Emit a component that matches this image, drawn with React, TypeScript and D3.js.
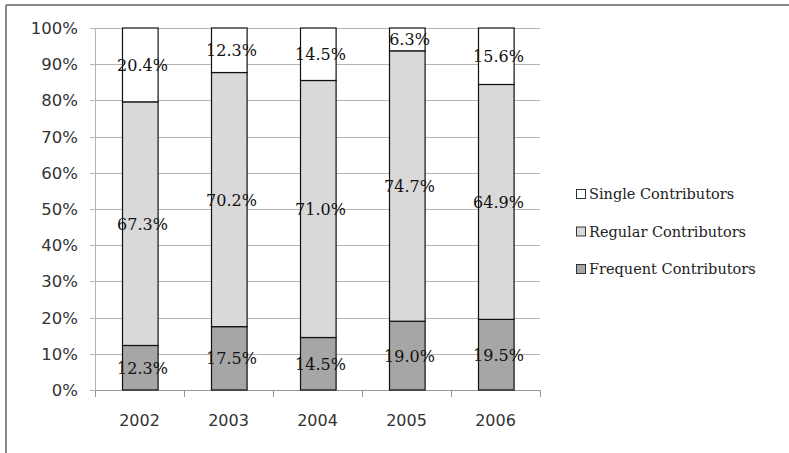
import React from "react";
import * as d3 from "d3";

const years = ["2002", "2003", "2004", "2005", "2006"];
const frequent = [12.3, 17.5, 14.5, 19.0, 19.5];
const regular = [67.3, 70.2, 71.0, 74.7, 64.9];
const single = [20.4, 12.3, 14.5, 6.3, 15.6];
const yTicks = [0, 10, 20, 30, 40, 50, 60, 70, 80, 90, 100];

const seriesNames = ["Frequent Contributors", "Regular Contributors", "Single Contributors"];
const seriesColors = ["#a6a6a6", "#d9d9d9", "#ffffff"];

const W = 789;
const H = 453;
const plot = { left: 95, right: 540, top: 28, bottom: 390 };

export default function App() {
  const x = d3.scaleBand<string>().domain(years).range([plot.left, plot.right]).paddingInner(0.6).paddingOuter(0.3);
  const band = d3.scaleBand<string>().domain(years).range([plot.left, plot.right]);
  const y = d3.scaleLinear().domain([0, 100]).range([plot.bottom, plot.top]);

  const rows = years.map((yr, i) => ({
    year: yr,
    "Frequent Contributors": frequent[i],
    "Regular Contributors": regular[i],
    "Single Contributors": single[i],
  }));
  const stacked = d3.stack<any>().keys(seriesNames)(rows);

  const axisFont = "'DejaVu Sans', sans-serif";
  const labelFont = "'DejaVu Serif', serif";

  return (
    <svg width={W} height={H} style={{ position: "absolute", left: 0, top: 0 }}>
      <rect x={0} y={0} width={W} height={H} fill="#fff" />
      {/* chart frame */}
      <line x1={6} y1={5} x2={W} y2={5} stroke="#888" strokeWidth={2} />
      <line x1={6} y1={5} x2={6} y2={H} stroke="#888" strokeWidth={2} />

      {/* gridlines and y ticks */}
      {yTicks.map((t) => (
        <g key={t}>
          <line x1={plot.left - 5} x2={plot.right} y1={Math.round(y(t)) + 0.5} y2={Math.round(y(t)) + 0.5} stroke="#b4b4b4" strokeWidth={1} />
          <text x={78} y={y(t) + 6} textAnchor="end" fontFamily={axisFont} fontSize={16.5} fill="#333">
            {t}%
          </text>
        </g>
      ))}
      {/* axes */}
      <line x1={plot.left + 0.5} x2={plot.left + 0.5} y1={plot.top} y2={plot.bottom} stroke="#b4b4b4" />
      <line x1={plot.left} x2={plot.right} y1={plot.bottom + 0.5} y2={plot.bottom + 0.5} stroke="#999" />
      {years.concat(["end"]).map((yr, i) => {
        const xx = i < years.length ? (band(yr) as number) : plot.right;
        return <line key={yr} x1={xx + 0.5} x2={xx + 0.5} y1={plot.bottom} y2={plot.bottom + 7} stroke="#999" />;
      })}
      {years.map((yr) => (
        <text key={yr} x={(band(yr) as number) + band.bandwidth() / 2} y={426} textAnchor="middle" fontFamily={axisFont} fontSize={16} fill="#333">
          {yr}
        </text>
      ))}

      {/* stacked bars */}
      {stacked.map((s, si) => (
        <g key={s.key}>
          {s.map((d, i) => (
            <rect
              key={i}
              x={Math.round(x(years[i]) as number) + 0.5}
              y={y(d[1])}
              width={x.bandwidth()}
              height={y(d[0]) - y(d[1])}
              fill={seriesColors[si]}
              stroke="#111"
              strokeWidth={1.2}
            />
          ))}
        </g>
      ))}
      {/* value labels */}
      {stacked.map((s) => (
        <g key={s.key + "-lbl"}>
          {s.map((d, i) => (
            <text
              key={i}
              x={(x(years[i]) as number) + x.bandwidth() / 2 + 3}
              y={y((d[0] + d[1]) / 2) + 6}
              textAnchor="middle"
              fontFamily={labelFont}
              fontSize={16}
              fill="#111"
            >
              {(d[1] - d[0]).toFixed(1)}%
            </text>
          ))}
        </g>
      ))}

      {/* legend */}
      {[2, 1, 0].map((si, k) => (
        <g key={si} transform={`translate(576, ${189 + k * 37.5})`}>
          <rect x={0.5} y={0.5} width={9} height={9} fill={seriesColors[si]} stroke="#333" />
          <text x={13} y={10} fontFamily={labelFont} fontSize={14.5} fill="#222">
            {seriesNames[si]}
          </text>
        </g>
      ))}
    </svg>
  );
}
